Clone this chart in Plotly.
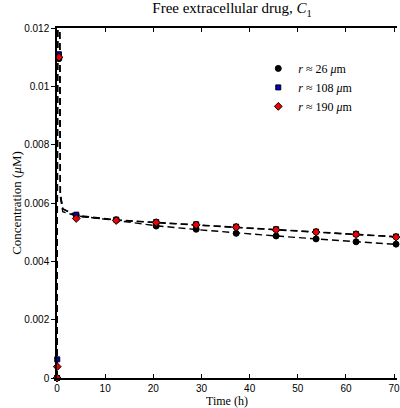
import plotly.graph_objects as go

# ---- data ----
t_data = [0, 0.05, 0.4, 4.0, 12.3, 20.6, 28.9, 37.2, 45.5, 53.8, 62.1, 70.4]
c_r26 = [0, 0, 0.01095, 0.00557, 0.00542, 0.00521, 0.0051, 0.00496, 0.00487, 0.00477, 0.00467, 0.00459]
c_r108 = [0, 0.00064, 0.0111, 0.00560, 0.00543, 0.00535, 0.00527, 0.00519, 0.0051, 0.00502, 0.00494, 0.00485]
c_r190 = [0, 0.00039, 0.0110, 0.00547, 0.0054, 0.00533, 0.00525, 0.00517, 0.00508, 0.0050, 0.00492, 0.00483]

t_model = [0, 0.15, 0.55, 0.7, 1.2, 4, 12.3, 20.6, 28.9, 37.2, 45.5, 53.8, 62.1, 70.4, 72]
m_r26 = [0, 0.0125, 0.0125, 0.0062, 0.0057, 0.00556, 0.0054, 0.00522, 0.00509, 0.00497, 0.00487, 0.00477, 0.00467, 0.00458, 0.00456]
m_r108 = [0, 0.0125, 0.0125, 0.0063, 0.0058, 0.00558, 0.00542, 0.00533, 0.00525, 0.00517, 0.00509, 0.00501, 0.00493, 0.00485, 0.00483]
m_r190 = [0, 0.0125, 0.0125, 0.0063, 0.0058, 0.00555, 0.00541, 0.00532, 0.00524, 0.00516, 0.00508, 0.005, 0.00492, 0.00484, 0.00482]

labels = ["<i>r</i> ≈ 26 <i>μ</i>m", "<i>r</i> ≈ 108 <i>μ</i>m", "<i>r</i> ≈ 190 <i>μ</i>m"]
x_ticks = [0, 10, 20, 30, 40, 50, 60, 70]
y_ticks = [0, 0.002, 0.004, 0.006, 0.008, 0.01, 0.012]
y_tick_text = ["0", "0.002", "0.004", "0.006", "0.008", "0.01", "0.012"]

fig = go.Figure()
for m in [m_r26, m_r108, m_r190]:
    fig.add_trace(go.Scatter(x=t_model, y=m, mode="lines",
                             line=dict(color="black", width=1.4, dash="7px,4px"),
                             showlegend=False, hoverinfo="skip"))

styles = [("circle", "black", 6), ("square", "#0000cc", 5), ("diamond", "#ee0000", 6)]
for vals, lab, (sym, col, sz) in zip([c_r26, c_r108, c_r190], labels, styles):
    fig.add_trace(go.Scatter(x=t_data, y=vals, mode="markers", name=lab,
                             marker=dict(symbol=sym, color=col, size=sz,
                                         line=dict(color="black", width=1)),
                             cliponaxis=False))

serif = "Liberation Serif, DejaVu Serif, serif"
sans = "Liberation Sans, Arial, sans-serif"
fig.update_layout(
    width=400, height=408,
    margin=dict(l=57, r=0, t=28, b=30),
    paper_bgcolor="white", plot_bgcolor="white",
    title=dict(text="Free extracellular drug, <i>C</i><sub>1</sub>", x=0.58, xanchor="center",
               y=0.993, yanchor="top", font=dict(family=serif, size=15, color="black")),
    legend=dict(x=0.592, y=0.926, xanchor="left", yanchor="top", bgcolor="rgba(0,0,0,0)",
                font=dict(family=serif, size=12, color="black"), tracegroupgap=2),
    xaxis=dict(range=[0, 70.6], tickvals=x_ticks, ticks="inside", ticklen=4, tickcolor="black",
               showgrid=False, zeroline=False, showline=True, linecolor="black", linewidth=1.5,
               mirror="ticks", ticklabeloverflow="allow",
               tickfont=dict(family=sans, size=10, color="black"),
               title=dict(text="Time (h)", font=dict(family=serif, size=12, color="black"), standoff=0)),
    yaxis=dict(range=[0, 0.012], tickvals=y_ticks, ticktext=y_tick_text, ticks="outside", ticklen=4,
               tickcolor="black", showgrid=False, zeroline=False, showline=True, linecolor="black",
               linewidth=1.5, tickfont=dict(family=sans, size=10, color="black"),
               title=dict(text="Concentration (<i>μ</i>M)", font=dict(family=serif, size=13, color="black"),
                          standoff=0)),
)
fig.write_html("out.html")
